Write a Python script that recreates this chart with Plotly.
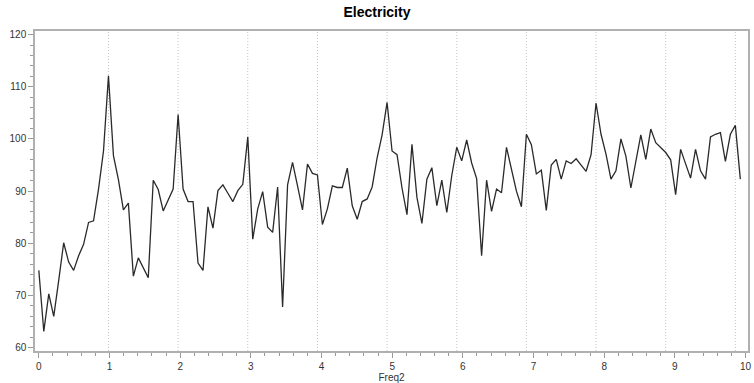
import numpy as np
import plotly.graph_objects as go

# Spectral ordinate values (one per frequency step)
electricity = [
    74.8, 63.1, 70.3, 66.0, 72.9, 80.1, 76.4, 74.8, 77.6, 79.8,
    84.0, 84.3, 90.4, 97.7, 112.1, 96.8, 92.2, 86.4, 87.7, 73.7,
    77.2, 75.3, 73.4, 92.1, 90.3, 86.2, 88.3, 90.4, 104.7, 90.4,
    88.0, 88.0, 76.2, 74.8, 87.0, 82.9, 90.1, 91.2, 89.6, 88.0,
    90.1, 91.3, 100.4, 80.8, 86.6, 89.9, 83.1, 82.1, 90.8, 67.8,
    91.2, 95.5, 91.0, 86.4, 95.2, 93.4, 93.1, 83.6, 86.6, 91.0,
    90.7, 90.7, 94.4, 87.2, 84.6, 88.0, 88.5, 90.8, 96.4, 100.8,
    107.0, 97.7, 97.0, 90.6, 85.5, 99.0, 88.8, 83.8, 92.3, 94.5,
    87.2, 92.1, 85.9, 93.0, 98.4, 95.8, 99.8, 95.4, 92.4, 77.6,
    92.1, 86.1, 90.4, 89.7, 98.4, 94.5, 90.0, 87.0, 100.9, 98.9,
    93.3, 94.0, 86.3, 95.0, 96.1, 92.3, 95.8, 95.3, 96.2, 95.0,
    93.8, 97.0, 106.9, 100.9, 97.1, 92.3, 93.9, 100.0, 96.7, 90.6,
    95.6, 100.8, 96.1, 101.9, 99.3, 98.4, 97.4, 96.0, 89.3, 98.0,
    95.2, 92.5, 98.0, 93.9, 92.3, 100.4, 100.9, 101.2, 95.7, 100.9,
    102.6, 92.3,
]
freq_step = 0.0704          # spacing of the Freq2 grid
harmonic_every = 14         # reference lines every 14 frequency steps
x_ticks = list(range(0, 11))
y_ticks = [60, 70, 80, 90, 100, 110, 120]

freq2 = [i * freq_step for i in range(len(electricity))]
ref_lines = [n * harmonic_every * freq_step for n in range(1, 11)]

fig = go.Figure()
fig.add_trace(go.Scatter(
    x=freq2, y=electricity, mode="lines",
    line=dict(color="#2a2a2a", width=1.3),
    hoverinfo="skip", showlegend=False,
))

for xv in ref_lines:
    fig.add_shape(type="line", xref="x", yref="paper", x0=xv, x1=xv, y0=0, y1=1,
                  line=dict(color="#c4c4c4", width=1, dash="1px,2px"), layer="below")

axis_font = dict(family="Liberation Sans, Arial, sans-serif", size=10, color="#333333")

fig.update_layout(
    width=754, height=383,
    margin=dict(l=35, r=6, t=31, b=32),
    paper_bgcolor="white", plot_bgcolor="white",
    title=dict(text="<b>Electricity</b>", x=0.5, xref="container", xanchor="center",
               y=1, yref="container", yanchor="top", pad=dict(t=7),
               font=dict(family="Liberation Sans, Arial, sans-serif", size=14, color="#000000")),
    xaxis=dict(
        range=[-0.054, 10.035], tickvals=x_ticks, showgrid=False, zeroline=False,
        automargin=False,
        ticks="outside", ticklen=5, tickcolor="#9a9a9a", tickwidth=1,
        minor=dict(dtick=0.2, tick0=0, ticks="outside", ticklen=3, tickcolor="#9a9a9a", showgrid=False),
        showline=True, linecolor="#b0b0b0", linewidth=1.5, mirror=True,
        tickfont=axis_font,
        title=dict(text="Freq2", font=axis_font, standoff=6),
    ),
    yaxis=dict(
        range=[59.35, 120.7], tickvals=y_ticks, showgrid=False, zeroline=False,
        automargin=False,
        ticks="outside", ticklen=5, tickcolor="#9a9a9a", tickwidth=1,
        minor=dict(dtick=2, tick0=60, ticks="outside", ticklen=3, tickcolor="#9a9a9a", showgrid=False),
        showline=True, linecolor="#b0b0b0", linewidth=1.5, mirror=True,
        tickfont=axis_font,
    ),
)

fig.write_html("out.html")
